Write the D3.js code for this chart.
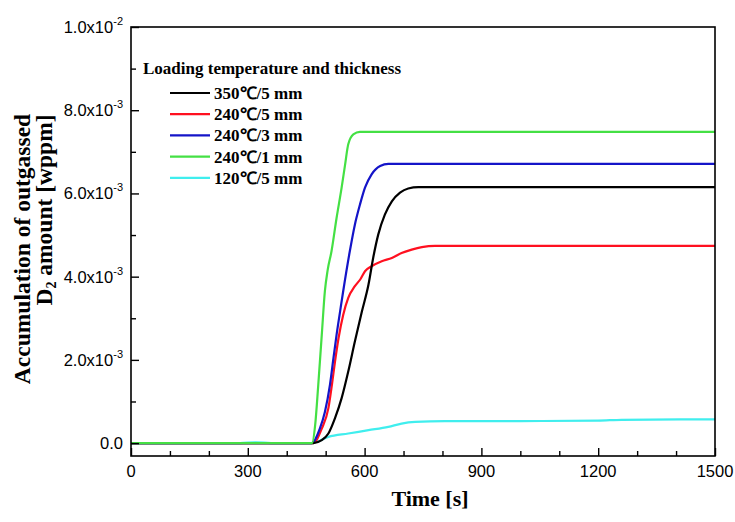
<!DOCTYPE html>
<html><head><meta charset="utf-8">
<script src="https://cdn.jsdelivr.net/npm/d3@7/dist/d3.min.js"></script>
<style>body{margin:0;background:#fff}</style>
</head><body>
<svg id="c" width="735" height="522"></svg>
<script>
// Data (time in s, value in units of 1e-3 wppm)
const seriesNames = ["350\u2103/5 mm","240\u2103/5 mm","240\u2103/3 mm","240\u2103/1 mm","120\u2103/5 mm"];
const seriesColors = ["#000000","#ff1020","#1414c8","#44e044","#40eeee"];
const s350_5 = [[0,0],[468,0],[490,0.07],[507,0.23],[524,0.60],[541,1.08],[558,1.72],[575,2.44],[593,3.16],[610,3.81],[622,4.45],[635,5.01],[652,5.49],[670,5.81],[691,6.02],[712,6.12],[738,6.15],[780,6.15],[1500,6.15]];
const s240_5 = [[0,0],[468,0],[490,0.35],[507,0.84],[516,1.40],[524,1.96],[533,2.52],[545,3.08],[558,3.49],[575,3.77],[590,3.95],[601,4.13],[618,4.25],[644,4.37],[670,4.45],[695,4.57],[721,4.65],[747,4.71],[781,4.74],[820,4.74],[1500,4.74]];
const s240_3 = [[0,0],[464,0],[485,0.35],[498,0.75],[511,1.40],[520,2.04],[528,2.60],[537,3.16],[545,3.65],[562,4.61],[575,5.25],[588,5.73],[601,6.14],[618,6.46],[640,6.66],[661,6.71],[700,6.71],[1500,6.71]];
const s240_1 = [[0,0],[465,0],[473,0.43],[481,1.40],[490,2.60],[498,3.65],[505,4.15],[515,4.61],[528,5.41],[541,6.14],[550,6.70],[558,7.18],[571,7.42],[588,7.48],[620,7.48],[1500,7.48]];
const s120_5 = [[0,0],[280,0],[320,0.02],[360,0],[464,0],[507,0.15],[558,0.23],[610,0.31],[661,0.39],[695,0.47],[730,0.51],[806,0.53],[1000,0.53],[1200,0.54],[1260,0.56],[1500,0.57]];
const seriesData = [s350_5, s240_5, s240_3, s240_1, s120_5];
const xTicks = [0,300,600,900,1200,1500];
const yTicks = [0,2,4,6,8,10];
const yTickLabels = [["0.0",""],["2.0x10","-3"],["4.0x10","-3"],["6.0x10","-3"],["8.0x10","-3"],["1.0x10","-2"]];
const legendTitle = "Loading temperature and thickness";

const svg = d3.select("#c");
const L=131, R=715, T=27, B=456;
const x = d3.scaleLinear().domain([0,1500]).range([L,R]);
const y = d3.scaleLinear().domain([-0.31,10]).range([B,T]);

// curves
const line = d3.line().x(d=>x(d[0])).y(d=>y(d[1])).curve(d3.curveMonotoneX);
const g = svg.append("g");
[4,1,2,0,3].forEach(i=>{
  g.append("path").attr("d",line(seriesData[i])).attr("fill","none")
   .attr("stroke",seriesColors[i]).attr("stroke-width",2.2).attr("stroke-linejoin","round");
});

// frame
svg.append("rect").attr("x",L).attr("y",T).attr("width",R-L).attr("height",B-T)
  .attr("fill","none").attr("stroke","#000").attr("stroke-width",1.6);

const sans = "Liberation Sans, Arial, sans-serif";
// x axis ticks (inward)
const xa = svg.append("g").attr("transform",`translate(0,${B})`)
  .call(d3.axisBottom(x).tickValues(d3.range(0,1501,100)).tickSize(0).tickFormat(""));
xa.select(".domain").remove();
xa.selectAll(".tick").append("line").attr("y2",d=> d%300===0?-8:-5).attr("stroke","#000").attr("stroke-width",1.4);
svg.append("g").selectAll("text").data(xTicks).join("text")
  .attr("x",d=>x(d)).attr("y",B+21).attr("text-anchor","middle")
  .attr("font-family",sans).attr("font-size",16.5).text(d=>d);

// y axis ticks (inward)
const ya = svg.append("g").attr("transform",`translate(${L},0)`)
  .call(d3.axisLeft(y).tickValues(d3.range(0,10.01,1)).tickSize(0).tickFormat(""));
ya.select(".domain").remove();
ya.selectAll(".tick").append("line").attr("x2",d=> d%2===0?8:5).attr("stroke","#000").attr("stroke-width",1.4);
const yl = svg.append("g").selectAll("text").data(yTicks).join("text")
  .attr("x",L-8).attr("y",(d)=>y(d)+6).attr("text-anchor","end")
  .attr("font-family",sans).attr("font-size",16.5);
yl.each(function(d,i){
  const t=d3.select(this);
  t.append("tspan").text(yTickLabels[i][0]);
  if(yTickLabels[i][1]) t.append("tspan").attr("dy",-8).attr("font-size",11).text(yTickLabels[i][1]);
});

// axis titles
const serif = "Liberation Serif, Times New Roman, serif";
svg.append("text").attr("x",430).attr("y",506).attr("text-anchor","middle")
  .attr("font-family",serif).attr("font-weight","bold").attr("font-size",22).text("Time [s]");
svg.append("text").attr("transform","translate(30,249) rotate(-90)").attr("text-anchor","middle")
  .attr("font-family",serif).attr("font-weight","bold").attr("font-size",23.5).text("Accumulation of outgassed");
const t2 = svg.append("text").attr("transform","translate(52,210) rotate(-90)").attr("text-anchor","middle")
  .attr("font-family",serif).attr("font-weight","bold").attr("font-size",23.5);
t2.append("tspan").text("D");
t2.append("tspan").attr("font-size",14).attr("dy",4).text("2");
t2.append("tspan").attr("dy",-4).text(" amount [wppm]");

// legend
svg.append("text").attr("x",143).attr("y",74).attr("font-family",serif).attr("font-weight","bold")
  .attr("font-size",17).text(legendTitle);
const lg = svg.append("g").selectAll("g").data(seriesNames).join("g")
  .attr("transform",(d,i)=>`translate(0,${93+i*21.2})`);
lg.append("line").attr("x1",170).attr("x2",210).attr("stroke",(d,i)=>seriesColors[i]).attr("stroke-width",2.2);
lg.append("text").attr("x",214).attr("y",6).attr("font-family",serif).attr("font-weight","bold")
  .attr("font-size",17).text(d=>d);
</script>
</body></html>
